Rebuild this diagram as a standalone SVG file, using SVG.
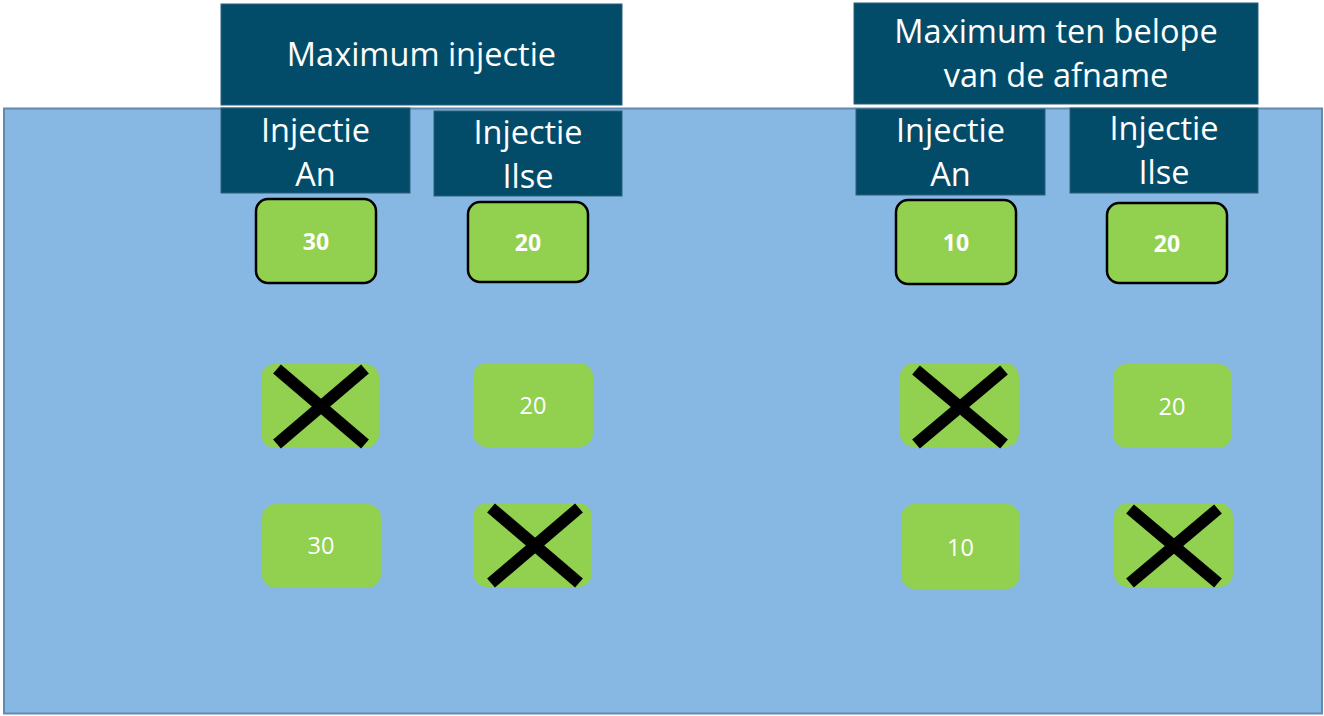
<svg xmlns="http://www.w3.org/2000/svg" width="1324" height="716" viewBox="0 0 1324 716">
<style>
.hdr{fill:#034c69;stroke:#2d5f78;stroke-width:1}
.ht{font-family:"Open Sans","Liberation Sans",sans-serif;font-size:32.5px;fill:#ffffff;text-anchor:middle}
.gb{fill:#92d050;stroke:#000000;stroke-width:2.5}
.g{fill:#92d050}
.bn{font-family:"Open Sans","Liberation Sans",sans-serif;font-size:23px;font-weight:bold;fill:#ffffff;text-anchor:middle}
.n{font-family:"Open Sans","Liberation Sans",sans-serif;font-size:23.5px;fill:#ffffff;text-anchor:middle}
.x{stroke:#000000;stroke-width:12;stroke-linecap:butt}
</style>
<rect width="1324" height="716" fill="#ffffff"/>
<g id="background">
<rect x="4" y="108.5" width="1318" height="605" fill="#86b8e3" stroke="#6289b0" stroke-width="2"/>
</g>
<g id="header-max-injectie">
<rect class="hdr" x="221" y="4" width="401" height="101"/>
<text class="ht" x="421.5" y="66">Maximum injectie</text>
</g>
<g id="header-max-afname">
<rect class="hdr" x="854" y="3" width="404" height="101"/>
<text class="ht" x="1056" y="43">Maximum ten belope</text>
<text class="ht" x="1056" y="87">van de afname</text>
</g>
<g id="sub-an-1">
<rect class="hdr" x="221" y="108" width="189" height="85"/>
<text class="ht" x="315.5" y="142">Injectie</text>
<text class="ht" x="315.5" y="186">An</text>
</g>
<g id="sub-ilse-1">
<rect class="hdr" x="434" y="111" width="188" height="85"/>
<text class="ht" x="528" y="144">Injectie</text>
<text class="ht" x="528" y="188">Ilse</text>
</g>
<g id="sub-an-2">
<rect class="hdr" x="856" y="109" width="189" height="86"/>
<text class="ht" x="950.5" y="142">Injectie</text>
<text class="ht" x="950.5" y="186">An</text>
</g>
<g id="sub-ilse-2">
<rect class="hdr" x="1070" y="108" width="188" height="85"/>
<text class="ht" x="1164" y="140">Injectie</text>
<text class="ht" x="1164" y="184">Ilse</text>
</g>
<g id="max-an-1">
<rect class="gb" x="256" y="199" width="120" height="84" rx="12"/>
<text class="bn" x="316" y="250">30</text>
</g>
<g id="max-ilse-1">
<rect class="gb" x="468" y="202" width="120" height="80" rx="12"/>
<text class="bn" x="528" y="251">20</text>
</g>
<g id="max-an-2">
<rect class="gb" x="896" y="200" width="120" height="84" rx="12"/>
<text class="bn" x="956" y="251">10</text>
</g>
<g id="max-ilse-2">
<rect class="gb" x="1107" y="203" width="120" height="80" rx="12"/>
<text class="bn" x="1167" y="252">20</text>
</g>
<g id="opt1-an-1">
<rect class="g" x="261" y="364" width="118" height="84" rx="14"/>
<line class="x" x1="277" y1="369" x2="365" y2="444"/>
<line class="x" x1="365" y1="369" x2="277" y2="444"/>
</g>
<g id="opt1-ilse-1">
<rect class="g" x="473" y="363" width="120" height="84" rx="14"/>
<text class="n" x="533" y="414">20</text>
</g>
<g id="opt2-an-1">
<rect class="g" x="262" y="504" width="119" height="84" rx="14"/>
<text class="n" x="321" y="554">30</text>
</g>
<g id="opt2-ilse-1">
<rect class="g" x="473" y="503" width="119" height="84" rx="14"/>
<line class="x" x1="491" y1="508" x2="579" y2="583"/>
<line class="x" x1="579" y1="508" x2="491" y2="583"/>
</g>
<g id="opt1-an-2">
<rect class="g" x="900" y="363" width="119" height="84" rx="14"/>
<line class="x" x1="916" y1="370" x2="1004" y2="444"/>
<line class="x" x1="1004" y1="370" x2="916" y2="444"/>
</g>
<g id="opt1-ilse-2">
<rect class="g" x="1113" y="364" width="119" height="84" rx="14"/>
<text class="n" x="1172" y="415">20</text>
</g>
<g id="opt2-an-2">
<rect class="g" x="901" y="504" width="119" height="85" rx="14"/>
<text class="n" x="960.5" y="556">10</text>
</g>
<g id="opt2-ilse-2">
<rect class="g" x="1114" y="503" width="119" height="84" rx="14"/>
<line class="x" x1="1130" y1="509" x2="1218" y2="583"/>
<line class="x" x1="1218" y1="509" x2="1130" y2="583"/>
</g>
<g id="connectors"></g>
</svg>
